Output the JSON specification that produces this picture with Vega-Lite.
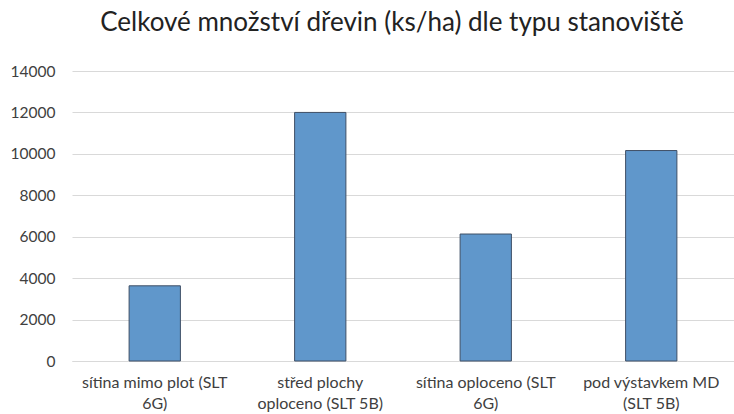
{
  "$schema": "https://vega.github.io/schema/vega-lite/v6.json",
  "autosize": {"type": "none"},
  "width": 662,
  "height": 290,
  "padding": {"left": 72, "top": 71, "right": 0, "bottom": 53},
  "background": "white",
  "title": {
    "text": "Celkové množství dřevin (ks/ha) dle typu stanoviště",
    "font": "Lato",
    "fontSize": 26,
    "fontWeight": "normal",
    "color": "#222222",
    "anchor": "middle",
    "dx": -11,
    "offset": 28
  },
  "data": {
    "values": [
      {"stanoviste": "sítina mimo plot (SLT 6G)", "pocet": 3630},
      {"stanoviste": "střed plochy oploceno (SLT 5B)", "pocet": 12000},
      {"stanoviste": "sítina oploceno (SLT 6G)", "pocet": 6130},
      {"stanoviste": "pod výstavkem MD (SLT 5B)", "pocet": 10160}
    ]
  },
  "mark": {"type": "bar", "fill": "#6097CB", "stroke": "#3f4f66", "strokeWidth": 1},
  "encoding": {
    "x": {
      "field": "stanoviste",
      "type": "nominal",
      "sort": null,
      "scale": {"paddingInner": 0.69, "paddingOuter": 0.345},
      "axis": {
        "title": null,
        "labelAngle": 0,
        "labelFont": "Lato",
        "labelFontSize": 16,
        "labelColor": "#404040",
        "labelPadding": 13,
        "labelLineHeight": 21,
        "ticks": false,
        "domainColor": "#d9d9d9",
        "labelExpr": "datum.value == 'sítina mimo plot (SLT 6G)' ? ['sítina mimo plot (SLT', '6G)'] : datum.value == 'střed plochy oploceno (SLT 5B)' ? ['střed plochy', 'oploceno (SLT 5B)'] : datum.value == 'sítina oploceno (SLT 6G)' ? ['sítina oploceno (SLT', '6G)'] : ['pod výstavkem MD', '(SLT 5B)']"
      }
    },
    "y": {
      "field": "pocet",
      "type": "quantitative",
      "scale": {"domain": [0, 14000]},
      "axis": {
        "title": null,
        "values": [0, 2000, 4000, 6000, 8000, 10000, 12000, 14000],
        "format": "d",
        "labelFont": "Lato",
        "labelFontSize": 15.5,
        "labelColor": "#404040",
        "labelPadding": 17,
        "ticks": false,
        "domain": false,
        "gridColor": "#d9d9d9",
        "gridWidth": 1
      }
    }
  },
  "config": {"view": {"stroke": null}}
}
